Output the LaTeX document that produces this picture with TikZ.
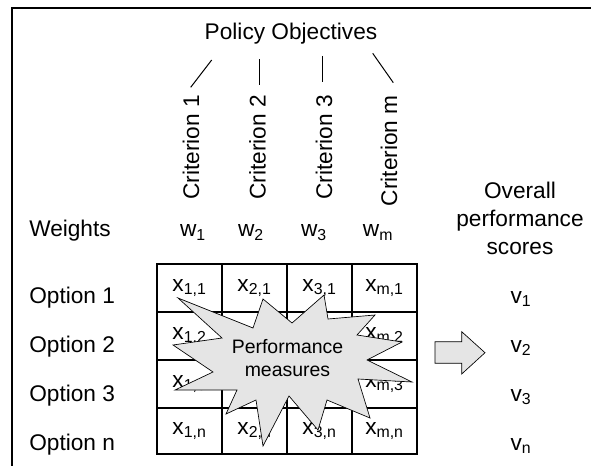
\documentclass[tikz,border=0pt]{standalone}
\usepackage{fontspec}
\setmainfont{Liberation Sans}
\begin{document}
\begin{tikzpicture}[x=0.75pt,y=-0.75pt,
    lbl/.style={inner sep=0pt,anchor=base,font=\fontsize{17}{21}\selectfont},
    lblw/.style={lbl,anchor=base west},
    crit/.style={lbl,anchor=east,rotate=90},
    cell/.style={lbl},
    grid/.style={line width=1.3pt},
    frame/.style={line width=1.5pt},
    burst/.style={fill=black!10,draw=black,line width=0.5pt,line join=miter}]
  \useasboundingbox (0,0) rectangle (591,466);
  \draw[frame] (12,466) -- (12,8) -- (591,8);
  % header
  \draw
    (291,40) node[lbl] (po){Policy Objectives}
    (191,95) node[crit] (c1){Criterion 1}
    (257.5,95) node[crit] (c2){Criterion 2}
    (324,95) node[crit] (c3){Criterion 3}
    (389,95) node[crit] (cm){Criterion m};
  \coordinate (p1) at (211.7,60);
  \coordinate (q1) at (190.7,87.3);
  \coordinate (p2) at (259.3,59.3);
  \coordinate (q2) at (259.3,85);
  \coordinate (p3) at (322.7,56);
  \coordinate (q3) at (322.7,81.7);
  \coordinate (pm) at (372.7,53.3);
  \coordinate (qm) at (393.3,82.7);
  \begin{scope}[line width=0.75pt]
    \draw (p1) to (q1);
    \draw (p2) to (q2);
    \draw (p3) to (q3);
    \draw (pm) to (qm);
  \end{scope}
  % weights and options
  \draw
    (29,237) node[lblw] (wt){Weights}
    (193,237) node[lbl] (w1){w\textsubscript{1}}
    (251,237) node[lbl] (w2){w\textsubscript{2}}
    (314,237) node[lbl] (w3){w\textsubscript{3}}
    (378,237) node[lbl] (wm){w\textsubscript{m}}
    (29,303) node[lblw] (o1){Option 1}
    (29,352) node[lblw] (o2){Option 2}
    (29,401) node[lblw] (o3){Option 3}
    (29,450) node[lblw] (on){Option n};
  % matrix
  \draw[grid] (157,264) rectangle (417,454);
  \draw[grid] (222,264) -- (222,454) (287,264) -- (287,454) (352,264) -- (352,454);
  \draw[grid] (157,312) -- (417,312) (157,360) -- (417,360) (157,408) -- (417,408);
  \draw
    (189.5,291) node[cell] (x11){x\textsubscript{1,1}}
    (254.5,291) node[cell] (x21){x\textsubscript{2,1}}
    (319.5,291) node[cell] (x31){x\textsubscript{3,1}}
    (384.5,291) node[cell] (xm1){x\textsubscript{m,1}}
    (189.5,339) node[cell] (x12){x\textsubscript{1,2}}
    (254.5,339) node[cell] (x22){x\textsubscript{2,2}}
    (319.5,339) node[cell] (x32){x\textsubscript{3,2}}
    (384.5,339) node[cell] (xm2){x\textsubscript{m,2}}
    (189.5,387) node[cell] (x13){x\textsubscript{1,3}}
    (254.5,387) node[cell] (x23){x\textsubscript{2,3}}
    (319.5,387) node[cell] (x33){x\textsubscript{3,3}}
    (384.5,387) node[cell] (xm3){x\textsubscript{m,3}}
    (189.5,434) node[cell] (x1n){x\textsubscript{1,n}}
    (254.5,434) node[cell] (x2n){x\textsubscript{2,n}}
    (319.5,434) node[cell] (x3n){x\textsubscript{3,n}}
    (384.5,434) node[cell] (xmn){x\textsubscript{m,n}};
  % performance measures
  \draw[burst] (178,298) -- (253,328) -- (263,299) -- (292,323) -- (324,295)
    -- (328,319) -- (375,315) -- (357,335) -- (402,342) -- (367,360)
    -- (412,382) -- (358,379) -- (370,418) -- (327,400) -- (318,430)
    -- (289,396) -- (263,446) -- (256,400) -- (226,414) -- (237,390)
    -- (175,390) -- (213,372) -- (173,345) -- (222,338) -- cycle;
  \node[inner sep=0pt,anchor=north,align=center,
    font=\fontsize{14.6}{17.5}\selectfont] (pms) at (287.5,339)
    {Performance\\measures};
  % arrow and scores
  \draw[fill=black!10,line width=0.5pt] (435,341.7) -- (461.7,341.7) -- (461.7,331.7)
    -- (485,352.7) -- (461.7,374) -- (461.7,363.3) -- (435,363.3) -- cycle;
  \node[inner sep=0pt,anchor=north,align=center,
    font=\fontsize{17}{21}\selectfont] (ops) at (520,182)
    {Overall\\performance\\scores};
  \draw
    (521,303) node[lbl] (v1){v\textsubscript{1}}
    (521,352) node[lbl] (v2){v\textsubscript{2}}
    (521,401) node[lbl] (v3){v\textsubscript{3}}
    (521,450) node[lbl] (vn){v\textsubscript{n}};
\end{tikzpicture}
\end{document}
